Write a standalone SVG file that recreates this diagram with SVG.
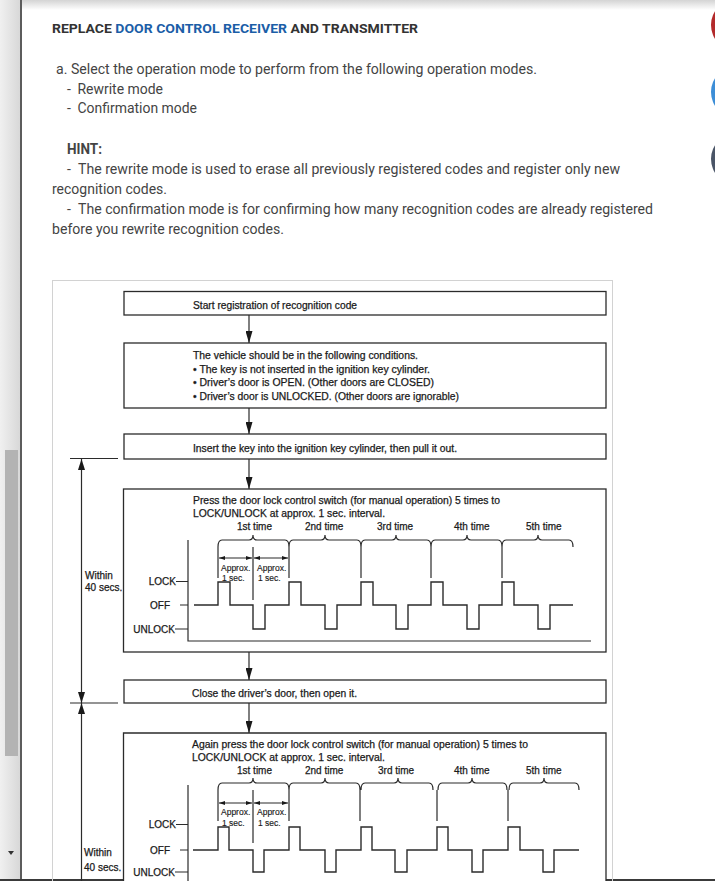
<svg xmlns="http://www.w3.org/2000/svg" width="715" height="881" viewBox="0 0 715 881">
<defs>
<style>
.hd{font-family:Roboto,"Liberation Sans",sans-serif;font-size:14px;fill:#444}
.tt{font-family:Roboto,"Liberation Sans",sans-serif;font-size:13.5px;font-weight:bold;fill:#333}
.t{font-family:"Liberation Sans",Arial,sans-serif;font-size:10px;fill:#1a1a1a;stroke:#1a1a1a;stroke-width:0.25}
.s{font-family:"Liberation Sans",Arial,sans-serif;font-size:8.5px;fill:#1a1a1a;stroke:#1a1a1a;stroke-width:0.15}
.bx{fill:#fff;stroke:#2b2b2b;stroke-width:1.3}
.ln{fill:none;stroke:#2b2b2b;stroke-width:1.2}
.wv{fill:none;stroke:#2b2b2b;stroke-width:1.4}
</style>
<linearGradient id="topsh" x1="0" y1="0" x2="0" y2="1"><stop offset="0" stop-color="#d4d4d4"/><stop offset="1" stop-color="#ffffff"/></linearGradient>
<linearGradient id="gut" x1="0" y1="0" x2="1" y2="0"><stop offset="0" stop-color="#f0f0f0"/><stop offset="1" stop-color="#d8d8d8"/></linearGradient>
<marker id="ah" markerUnits="userSpaceOnUse" viewBox="0 0 12 7" refX="12" refY="3.5" markerWidth="12" markerHeight="7" orient="auto"><path d="M0,0 L12,3.5 L0,7 z" fill="#1a1a1a"/></marker>
<marker id="ahl" markerUnits="userSpaceOnUse" viewBox="0 0 11 7" refX="11" refY="3.5" markerWidth="11" markerHeight="7" orient="auto-start-reverse"><path d="M0,0 L11,3.5 L0,7 z" fill="#1a1a1a"/></marker>
<marker id="ahs" markerUnits="userSpaceOnUse" viewBox="0 0 6 4" refX="6" refY="2" markerWidth="6" markerHeight="4" orient="auto-start-reverse"><path d="M0,0 L6,2 L0,4 z" fill="#1a1a1a"/></marker>
</defs>
<rect width="715" height="881" fill="#fff"/>
<!-- page chrome -->
<rect x="22" y="0" width="693" height="10" fill="url(#topsh)"/>
<rect x="0" y="0" width="20" height="881" fill="url(#gut)"/>
<rect x="5" y="450" width="13" height="306" fill="#b3b3b3"/>
<polygon points="8,851 14,851 11,855" fill="#333"/>
<rect x="20" y="0" width="2" height="881" fill="#5c5c5c"/>
<rect x="0" y="879" width="715" height="2" fill="#3a3a3a"/>
<circle cx="737" cy="25" r="26" fill="#b32a2b"/>
<circle cx="737" cy="92" r="26" fill="#3d8ed7"/>
<circle cx="737" cy="159" r="26" fill="#4a5567"/>
<!-- header text -->
<text class="tt" x="52" y="33" textLength="366" lengthAdjust="spacingAndGlyphs">REPLACE <tspan fill="#1b5ea7">DOOR CONTROL RECEIVER</tspan> AND TRANSMITTER</text>
<text class="hd" x="56" y="74" textLength="481" lengthAdjust="spacingAndGlyphs">a. Select the operation mode to perform from the following operation modes.</text>
<text class="hd" x="67" y="94">-</text><text class="hd" x="77.5" y="94" textLength="85.5" lengthAdjust="spacingAndGlyphs">Rewrite mode</text>
<text class="hd" x="67" y="113">-</text><text class="hd" x="77.5" y="113" textLength="119.5" lengthAdjust="spacingAndGlyphs">Confirmation mode</text>
<text class="hd" x="67" y="154" font-weight="bold" textLength="35" lengthAdjust="spacingAndGlyphs">HINT:</text>
<text class="hd" x="67" y="174">-</text><text class="hd" x="78" y="174" textLength="542" lengthAdjust="spacingAndGlyphs">The rewrite mode is used to erase all previously registered codes and register only new</text>
<text class="hd" x="52" y="194" textLength="115" lengthAdjust="spacingAndGlyphs">recognition codes.</text>
<text class="hd" x="67" y="214">-</text><text class="hd" x="78" y="214" textLength="575" lengthAdjust="spacingAndGlyphs">The confirmation mode is for confirming how many recognition codes are already registered</text>
<text class="hd" x="52" y="234" textLength="232" lengthAdjust="spacingAndGlyphs">before you rewrite recognition codes.</text>
<!-- diagram frame -->
<rect x="52.5" y="280.5" width="560" height="620" fill="none" stroke="#d2d2d2" stroke-width="1"/>
<!-- connectors -->
<g id="connectors">
<line class="ln" x1="249" y1="315" x2="249" y2="343" marker-end="url(#ah)"/>
<line class="ln" x1="249" y1="408" x2="249" y2="434" marker-end="url(#ah)"/>
<line class="ln" x1="249" y1="459" x2="249" y2="489" marker-end="url(#ah)"/>
<line class="ln" x1="249" y1="652" x2="249" y2="680" marker-end="url(#ah)"/>
<line class="ln" x1="249" y1="703" x2="249" y2="733" marker-end="url(#ah)"/>
<line class="ln" x1="70" y1="458.5" x2="118" y2="458.5"/>
<line class="ln" x1="70" y1="703" x2="118" y2="703"/>
<line class="ln" x1="81.5" y1="459" x2="81.5" y2="703" marker-start="url(#ahl)" marker-end="url(#ahl)"/>
<line class="ln" x1="81.5" y1="890" x2="81.5" y2="703" marker-end="url(#ahl)"/>
</g>
<!-- nodes -->
<g id="n-start">
<rect class="bx" x="124" y="291.5" width="482" height="23.5"/>
<text class="t" x="193" y="309" textLength="164" lengthAdjust="spacingAndGlyphs">Start registration of recognition code</text>
</g>
<g id="n-conditions">
<rect class="bx" x="124" y="343" width="482" height="65"/>
<text class="t" x="193" y="359" textLength="225" lengthAdjust="spacingAndGlyphs">The vehicle should be in the following conditions.</text>
<text class="t" x="193" y="373" textLength="237" lengthAdjust="spacingAndGlyphs">• The key is not inserted in the ignition key cylinder.</text>
<text class="t" x="193" y="386" textLength="241" lengthAdjust="spacingAndGlyphs">• Driver’s door is OPEN. (Other doors are CLOSED)</text>
<text class="t" x="193" y="400" textLength="266" lengthAdjust="spacingAndGlyphs">• Driver’s door is UNLOCKED. (Other doors are ignorable)</text>
</g>
<g id="n-insert">
<rect class="bx" x="124" y="434" width="482" height="25"/>
<text class="t" x="193" y="452" textLength="264" lengthAdjust="spacingAndGlyphs">Insert the key into the ignition key cylinder, then pull it out.</text>
</g>
<g id="n-press1">
<rect class="bx" x="123.5" y="489" width="482.5" height="163"/>
<text class="t" x="193" y="504" textLength="307" lengthAdjust="spacingAndGlyphs">Press the door lock control switch (for manual operation) 5 times to</text>
<text class="t" x="193" y="517" textLength="192" lengthAdjust="spacingAndGlyphs">LOCK/UNLOCK at approx. 1 sec. interval.</text>
<text class="t" x="237" y="530">1st time</text>
<text class="t" x="305" y="530">2nd time</text>
<text class="t" x="377" y="530">3rd time</text>
<text class="t" x="454" y="530">4th time</text>
<text class="t" x="526" y="530">5th time</text>
<path class="ln" d="M218,547 Q218,540 222,540 L249,540 Q253,540 253,535 Q253,540 257,540 L285,540 Q289,540 289,547 M289,547 Q289,540 293,540 L321,540 Q325,540 325,535 Q325,540 329,540 L357,540 Q361,540 361,547 M361,547 Q361,540 365,540 L392,540 Q396,540 396,535 Q396,540 400,540 L427,540 Q431,540 431,547 M431,547 Q431,540 435,540 L463,540 Q467,540 467,535 Q467,540 471,540 L498,540 Q502,540 502,547 M502,547 Q502,540 506,540 L534,540 Q538,540 538,535 Q538,540 542,540 L569,540 Q573,540 573,547"/>
<path class="ln" d="M218,547 V578 M289,547 V578 M361,547 V578 M431,547 V578 M502,547 V578 M253,547 V600"/>
<line class="ln" x1="219" y1="558" x2="252" y2="558" marker-start="url(#ahs)" marker-end="url(#ahs)"/>
<line class="ln" x1="254" y1="558" x2="288" y2="558" marker-start="url(#ahs)" marker-end="url(#ahs)"/>
<text class="s" x="221" y="571">Approx.</text>
<text class="s" x="222" y="581">1 sec.</text>
<text class="s" x="257" y="571">Approx.</text>
<text class="s" x="258" y="581">1 sec.</text>
<path class="ln" d="M188,540 V641 H591 M176,581.5 H188 M180,605 H188 M175,629 H188"/>
<text class="t" x="176" y="585" text-anchor="end">LOCK</text>
<text class="t" x="170" y="609" text-anchor="end">OFF</text>
<text class="t" x="175" y="633" text-anchor="end">UNLOCK</text>
<path class="wv" d="M194,605 H218 V582 H230 V605 H253 V629 H265 V605 H289 V582 H301 V605 H325 V629 H337 V605 H361 V582 H373 V605 H396 V629 H408 V605 H431 V582 H443 V605 H467 V629 H479 V605 H502 V582 H514 V605 H538 V629 H550 V605 H573"/>
<text class="t" x="85" y="579">Within</text>
<text class="t" x="85" y="591">40 secs.</text>
</g>
<g id="n-close">
<rect class="bx" x="124" y="680" width="482" height="23"/>
<text class="t" x="192" y="697" textLength="165" lengthAdjust="spacingAndGlyphs">Close the driver’s door, then open it.</text>
</g>
<g id="n-press2">
<path class="bx" d="M123.5,890 V733 H606 V890"/>
<text class="t" x="192" y="748" textLength="336" lengthAdjust="spacingAndGlyphs">Again press the door lock control switch (for manual operation) 5 times to</text>
<text class="t" x="192" y="761" textLength="193" lengthAdjust="spacingAndGlyphs">LOCK/UNLOCK at approx. 1 sec. interval.</text>
<text class="t" x="237" y="774">1st time</text>
<text class="t" x="305" y="774">2nd time</text>
<text class="t" x="378" y="774">3rd time</text>
<text class="t" x="454" y="774">4th time</text>
<text class="t" x="526" y="774">5th time</text>
<path class="ln" d="M218,790 Q218,783 222,783 L249,783 Q253,783 253,778 Q253,783 257,783 L285,783 Q289,783 289,790 M289,790 Q289,783 293,783 L321,783 Q325,783 325,778 Q325,783 329,783 L356,783 Q360,783 360,790 M361,790 Q361,783 365,783 L394,783 Q398,783 398,778 Q398,783 402,783 L429,783 Q433,783 433,790 M438,790 Q438,783 442,783 L468,783 Q472,783 472,778 Q472,783 476,783 L503,783 Q507,783 507,790 M509,790 Q509,783 513,783 L540,783 Q544,783 544,778 Q544,783 548,783 L575,783 Q579,783 579,790"/>
<path class="ln" d="M218,790 V821 M289,790 V821 M360,790 V821 M437,790 V821 M508,790 V821 M253,790 V843"/>
<line class="ln" x1="219" y1="803" x2="252" y2="803" marker-start="url(#ahs)" marker-end="url(#ahs)"/>
<line class="ln" x1="254" y1="803" x2="288" y2="803" marker-start="url(#ahs)" marker-end="url(#ahs)"/>
<text class="s" x="221" y="815">Approx.</text>
<text class="s" x="222" y="826">1 sec.</text>
<text class="s" x="257" y="815">Approx.</text>
<text class="s" x="258" y="826">1 sec.</text>
<path class="ln" d="M188,785 V890 M176,824.5 H188 M180,850 H188 M175,872 H188"/>
<text class="t" x="176" y="828" text-anchor="end">LOCK</text>
<text class="t" x="170" y="854" text-anchor="end">OFF</text>
<text class="t" x="175" y="876" text-anchor="end">UNLOCK</text>
<path class="wv" d="M193,850 H218 V827 H229 V850 H253 V872 H264 V850 H289 V827 H300 V850 H325 V872 H336 V850 H361 V827 H372 V850 H395 V872 H407 V850 H437 V827 H448 V850 H472 V872 H483 V850 H508 V827 H520 V850 H543 V872 H554 V850 H579"/>
<text class="t" x="84" y="856">Within</text>
<text class="t" x="84" y="871">40 secs.</text>
</g>
</svg>
